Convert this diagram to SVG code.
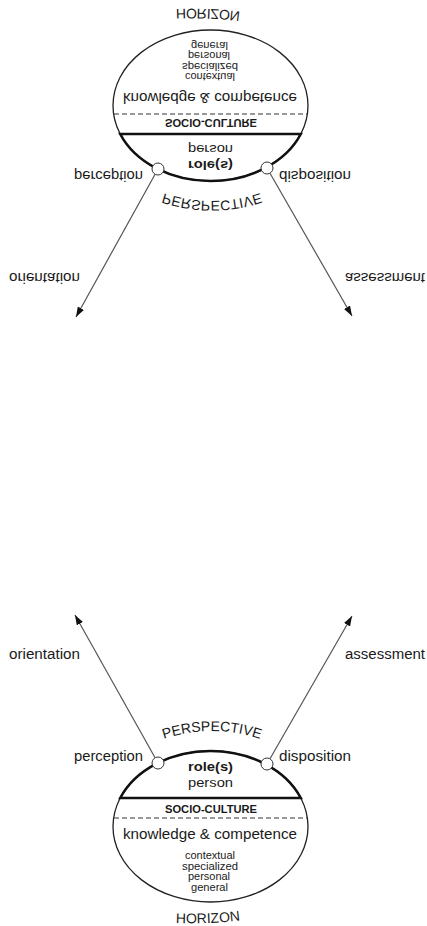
<svg xmlns="http://www.w3.org/2000/svg" xmlns:xlink="http://www.w3.org/1999/xlink" width="427" height="926" viewBox="0 0 427 926">
<style>
  .t { font-family: "Liberation Sans", Arial, sans-serif; fill: #1a1a1a; }
  .lbl { font-size: 14px; }
  .rp { font-size: 13px; }
  .b { font-weight: bold; }
  .sc { font-size: 10px; font-weight: bold; }
  .sm { font-size: 10.5px; }
  .cap { font-size: 14px; }
  .outline { fill: #fff; stroke: #222; stroke-width: 1.3; }
  .thick { fill: none; stroke: #111; stroke-width: 2.6; }
  .dash { fill: none; stroke: #333; stroke-width: 1; stroke-dasharray: 5 3; }
  .port { fill: #fff; stroke: #333; stroke-width: 1; }
  .arrow { fill: none; stroke: #555; stroke-width: 1.2; marker-end: url(#ah); }
</style>
<defs>
  <marker id="ah" viewBox="0 0 10 7" refX="10" refY="3.5" markerWidth="10" markerHeight="7" markerUnits="userSpaceOnUse" orient="auto">
    <path d="M0,0 L10,3.5 L0,7 Z" fill="#111"/>
  </marker>
  <path id="p-persp" d="M150,744 Q212,718 274,744"/>
  <path id="p-hor" d="M160,922 Q208,926 256,918"/>
</defs>

<!-- bottom figure -->
<g id="bottom-figure">
  <g id="b-sphere">
    <ellipse class="outline" cx="210.5" cy="826.5" rx="97.5" ry="75.5"/>
    <path class="thick" d="M120.2,798 A97.5,75.5 0 0 1 300.8,798 Z"/>
    <line class="dash" x1="114" y1="818" x2="307" y2="818"/>
    <text class="t rp b" x="188" y="771" textLength="45" lengthAdjust="spacingAndGlyphs">role(s)</text>
    <text class="t rp" x="188" y="787" textLength="45" lengthAdjust="spacingAndGlyphs">person</text>
    <text class="t sc" x="165" y="813" textLength="92" lengthAdjust="spacingAndGlyphs">SOCIO-CULTURE</text>
    <text class="t lbl" x="123" y="839" textLength="174" lengthAdjust="spacingAndGlyphs">knowledge &amp; competence</text>
    <text class="t sm" x="185" y="859" textLength="50" lengthAdjust="spacingAndGlyphs">contextual</text>
    <text class="t sm" x="182" y="869.5" textLength="56" lengthAdjust="spacingAndGlyphs">specialized</text>
    <text class="t sm" x="188" y="880" textLength="42" lengthAdjust="spacingAndGlyphs">personal</text>
    <text class="t sm" x="191" y="890.5" textLength="37" lengthAdjust="spacingAndGlyphs">general</text>
  </g>
  <g id="b-perspective"><text class="t cap"><textPath href="#p-persp" xlink:href="#p-persp" startOffset="50%" text-anchor="middle">PERSPECTIVE</textPath></text></g>
  <g id="b-horizon"><text class="t cap"><textPath href="#p-hor" xlink:href="#p-hor" startOffset="50%" text-anchor="middle">HORIZON</textPath></text></g>
  <g id="b-perception">
    <circle class="port" cx="158" cy="763" r="6"/>
    <text class="t lbl" x="74" y="761" textLength="69" lengthAdjust="spacingAndGlyphs">perception</text>
  </g>
  <g id="b-disposition">
    <circle class="port" cx="267" cy="764" r="6"/>
    <text class="t lbl" x="279" y="761" textLength="72" lengthAdjust="spacingAndGlyphs">disposition</text>
  </g>
  <g id="b-orientation"><text class="t lbl" x="9" y="659" textLength="71" lengthAdjust="spacingAndGlyphs">orientation</text></g>
  <g id="b-assessment"><text class="t lbl" x="345" y="659" textLength="80" lengthAdjust="spacingAndGlyphs">assessment</text></g>
</g>

<!-- top figure: mirror image of the bottom one -->
<g id="top-figure" transform="matrix(1 0 0 -1 0 932)">
  <g id="t-sphere">
    <ellipse class="outline" cx="210.5" cy="826.5" rx="97.5" ry="75.5"/>
    <path class="thick" d="M120.2,798 A97.5,75.5 0 0 1 300.8,798 Z"/>
    <line class="dash" x1="114" y1="818" x2="307" y2="818"/>
    <text class="t rp b" x="188" y="771" textLength="45" lengthAdjust="spacingAndGlyphs">role(s)</text>
    <text class="t rp" x="188" y="787" textLength="45" lengthAdjust="spacingAndGlyphs">person</text>
    <text class="t sc" x="165" y="813" textLength="92" lengthAdjust="spacingAndGlyphs">SOCIO-CULTURE</text>
    <text class="t lbl" x="123" y="839" textLength="174" lengthAdjust="spacingAndGlyphs">knowledge &amp; competence</text>
    <text class="t sm" x="185" y="859" textLength="50" lengthAdjust="spacingAndGlyphs">contextual</text>
    <text class="t sm" x="182" y="869.5" textLength="56" lengthAdjust="spacingAndGlyphs">specialized</text>
    <text class="t sm" x="188" y="880" textLength="42" lengthAdjust="spacingAndGlyphs">personal</text>
    <text class="t sm" x="191" y="890.5" textLength="37" lengthAdjust="spacingAndGlyphs">general</text>
  </g>
  <g id="t-perspective"><text class="t cap"><textPath href="#p-persp" xlink:href="#p-persp" startOffset="50%" text-anchor="middle">PERSPECTIVE</textPath></text></g>
  <g id="t-horizon"><text class="t cap"><textPath href="#p-hor" xlink:href="#p-hor" startOffset="50%" text-anchor="middle">HORIZON</textPath></text></g>
  <g id="t-perception">
    <circle class="port" cx="158" cy="763" r="6"/>
    <text class="t lbl" x="74" y="761" textLength="69" lengthAdjust="spacingAndGlyphs">perception</text>
  </g>
  <g id="t-disposition">
    <circle class="port" cx="267" cy="764" r="6"/>
    <text class="t lbl" x="279" y="761" textLength="72" lengthAdjust="spacingAndGlyphs">disposition</text>
  </g>
  <g id="t-orientation"><text class="t lbl" x="9" y="659" textLength="71" lengthAdjust="spacingAndGlyphs">orientation</text></g>
  <g id="t-assessment"><text class="t lbl" x="345" y="659" textLength="80" lengthAdjust="spacingAndGlyphs">assessment</text></g>
</g>

<g id="connectors">
  <path class="arrow" d="M155.1,757.8 L75,615"/>
  <path class="arrow" d="M270,758.8 L352,616"/>
  <path class="arrow" d="M155.1,174.2 L76,317"/>
  <path class="arrow" d="M270,173.2 L352,316"/>
</g>
</svg>
